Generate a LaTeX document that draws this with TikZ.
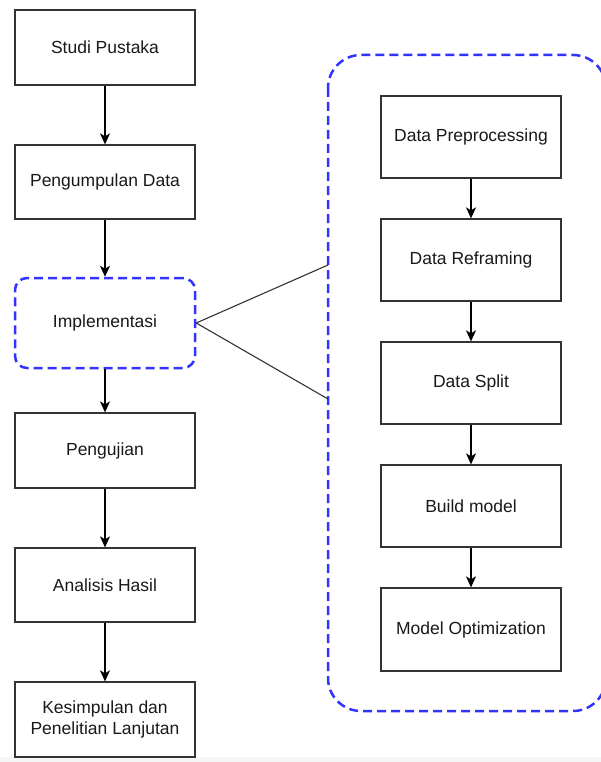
\documentclass[tikz,border=0pt]{standalone}
\usepackage{fontspec}
\setmainfont{Liberation Sans}
\usetikzlibrary{arrows.meta}
\definecolor{dashblue}{HTML}{3333FF}
\definecolor{boxline}{HTML}{333333}
\begin{document}
\begin{tikzpicture}[x=1pt,y=-1pt,
  every node/.style={font=\fontsize{17.5}{21}\selectfont, text=black!90},
  stepbox/.style={draw=boxline, line width=1.3pt, fill=white, minimum width=180pt, inner sep=0pt, align=center},
  dashbox/.style={draw=dashblue, line width=2.5pt, dash pattern=on 9pt off 5pt, rounded corners=12pt, fill=white, minimum width=180pt, minimum height=90pt, inner sep=0pt},
  flow/.style={draw=black, line width=1.3pt, -{Stealth[length=11pt,width=10pt,inset=3pt]}},
  link/.style={draw=boxline, line width=1.1pt}]
\useasboundingbox (0,0) rectangle (601,762);
\clip (0,0) rectangle (601,762);
\fill[black!4] (0,757) rectangle (601,762);
% container
\draw[draw=dashblue, line width=2.5pt, dash pattern=on 9pt off 5pt, rounded corners=33pt] (328,55) rectangle (606,711);
% left column
\node[stepbox, minimum height=75pt] (studi) at (105,47.5) {Studi Pustaka};
\node[stepbox, minimum height=74pt] (kumpul) at (105,182) {Pengumpulan Data};
\node[dashbox] (impl) at (105,323) {Implementasi};
\node[stepbox, minimum height=75pt] (uji) at (105,450.5) {Pengujian};
\node[stepbox, minimum height=74pt] (analisis) at (105,585) {Analisis Hasil};
\node[stepbox, minimum height=75pt] (simpul) at (105,719.5) {Kesimpulan dan\\Penelitian Lanjutan};
% right column
\node[stepbox, minimum height=82pt] (prep) at (471,137) {Data Preprocessing};
\node[stepbox, minimum height=82pt] (refr) at (471,260) {Data Reframing};
\node[stepbox, minimum height=82pt] (split) at (471,383) {Data Split};
\node[stepbox, minimum height=82pt] (build) at (471,506) {Build model};
\node[stepbox, minimum height=83pt] (optim) at (471,629.5) {Model Optimization};
% connectors
\draw[flow] (studi) -- (kumpul);
\draw[flow] (kumpul) -- (impl);
\draw[flow] (impl) -- (uji);
\draw[flow] (uji) -- (analisis);
\draw[flow] (analisis) -- (simpul);
\draw[flow] (prep) -- (refr);
\draw[flow] (refr) -- (split);
\draw[flow] (split) -- (build);
\draw[flow] (build) -- (optim);
\coordinate (ctop) at (328,265);
\coordinate (cbot) at (328,399);
\draw[link] (impl.east) -- (ctop);
\draw[link] (impl.east) -- (cbot);
\end{tikzpicture}
\end{document}
